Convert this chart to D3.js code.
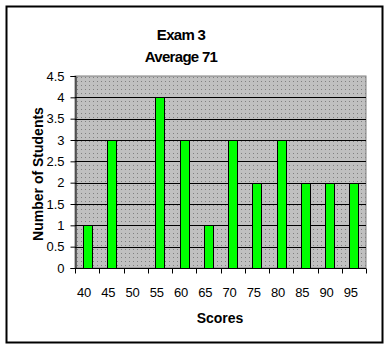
<!DOCTYPE html>
<html>
<head>
<meta charset="utf-8">
<script src="https://cdn.jsdelivr.net/npm/d3@7"></script>
<style>
  body { margin: 0; background: #fff; }
  text { font-family: Arial, "Liberation Sans", sans-serif; }
</style>
</head>
<body>
<svg id="chart" width="390" height="349"></svg>
<script>
// data
const scores = ["40", "45", "50", "55", "60", "65", "70", "75", "80", "85", "90", "95"];
const students = [1, 3, 0, 4, 3, 1, 3, 2, 3, 2, 2, 2];
const yTicks = [0, 0.5, 1, 1.5, 2, 2.5, 3, 3.5, 4, 4.5];

const svg = d3.select("#chart");
const plot = { left: 75, right: 366, top: 76, bottom: 268 };

// outer border
svg.append("rect")
    .attr("x", 6.5).attr("y", 6.5)
    .attr("width", 376).attr("height", 336)
    .attr("fill", "#fff")
    .attr("stroke", "#000")
    .attr("stroke-width", 2);

// dotted gray fill
const defs = svg.append("defs");
const pat = defs.append("pattern")
    .attr("id", "dots")
    .attr("patternUnits", "userSpaceOnUse")
    .attr("width", 4).attr("height", 4);
pat.append("rect").attr("width", 4).attr("height", 4).attr("fill", "#c0c0c0");
pat.append("rect").attr("x", 1).attr("y", 1).attr("width", 1).attr("height", 1).attr("fill", "#808080");

const x = d3.scaleBand()
    .domain(scores)
    .range([plot.left, plot.right]);

const y = d3.scaleLinear()
    .domain([0, 4.5])
    .range([plot.bottom, plot.top]);

svg.append("rect")
    .attr("x", plot.left).attr("y", plot.top)
    .attr("width", plot.right - plot.left)
    .attr("height", plot.bottom - plot.top)
    .attr("fill", "url(#dots)")
    .attr("stroke", "#808080")
    .attr("stroke-width", 1);

// horizontal grid lines
svg.append("g")
    .selectAll("line")
    .data(yTicks.filter(d => d > 0 && d < 4.5))
    .enter()
    .append("line")
    .attr("x1", plot.left).attr("x2", plot.right)
    .attr("y1", d => Math.round(y(d)) + 0.5)
    .attr("y2", d => Math.round(y(d)) + 0.5)
    .attr("stroke", "#000")
    .attr("stroke-width", 1);

// bars
const barW = 9;
svg.append("g")
    .selectAll("rect")
    .data(students)
    .enter()
    .append("rect")
    .attr("x", (d, i) => Math.round(x(scores[i]) + x.bandwidth() / 2 - barW / 2) + 0.5)
    .attr("y", d => Math.round(y(d)) + 0.5)
    .attr("width", barW)
    .attr("height", d => Math.round(y(0)) - Math.round(y(d)))
    .attr("fill", "#00ff00")
    .attr("stroke", "#000")
    .attr("stroke-width", 1)
    .style("display", d => d > 0 ? null : "none");

// y axis
const yAxis = svg.append("g")
    .attr("transform", `translate(${plot.left + 0.5},0)`)
    .call(d3.axisLeft(y).tickValues(yTicks).tickSize(5).tickPadding(6).tickFormat(d3.format("")));
yAxis.select(".domain").attr("stroke", "#000");
yAxis.selectAll(".tick line").attr("stroke", "#000");
yAxis.selectAll("text")
    .attr("font-size", 13)
    .attr("fill", "#000");

// x axis, ticks between categories
const xAxis = svg.append("g")
    .attr("transform", `translate(0,${Math.round(plot.bottom) + 0.5})`);
xAxis.append("line")
    .attr("x1", plot.left).attr("x2", plot.right)
    .attr("stroke", "#000");
xAxis.selectAll(".tk")
    .data(scores.concat(["end"]))
    .enter()
    .append("line")
    .attr("class", "tk")
    .attr("x1", (d, i) => Math.round(plot.left + i * x.step()) + 0.5)
    .attr("x2", (d, i) => Math.round(plot.left + i * x.step()) + 0.5)
    .attr("y1", 0).attr("y2", 5)
    .attr("stroke", "#000");
xAxis.selectAll("text")
    .data(scores)
    .enter()
    .append("text")
    .attr("x", d => x(d) + x.bandwidth() / 2 - 3)
    .attr("y", 28)
    .attr("text-anchor", "middle")
    .attr("font-size", 13)
    .text(d => d);

// titles
svg.append("text")
    .attr("x", 181).attr("y", 40)
    .attr("text-anchor", "middle")
    .attr("font-size", 15)
    .attr("font-weight", "bold")
    .attr("letter-spacing", -0.7)
    .text("Exam 3");
svg.append("text")
    .attr("x", 181).attr("y", 62)
    .attr("text-anchor", "middle")
    .attr("font-size", 15)
    .attr("font-weight", "bold")
    .attr("letter-spacing", -0.7)
    .text("Average 71");

svg.append("text")
    .attr("x", 220).attr("y", 323)
    .attr("text-anchor", "middle")
    .attr("font-size", 14)
    .attr("font-weight", "bold")
    .text("Scores");

svg.append("text")
    .attr("transform", "translate(43,174) rotate(-90)")
    .attr("text-anchor", "middle")
    .attr("font-size", 14)
    .attr("font-weight", "bold")
    .text("Number of Students");
</script>
</body>
</html>
